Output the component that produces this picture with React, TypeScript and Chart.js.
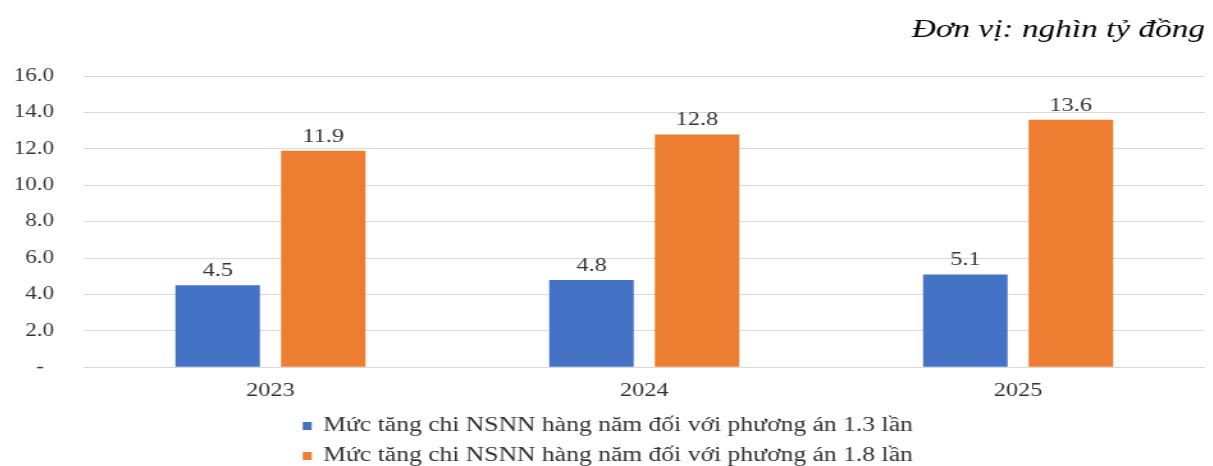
import React, { useEffect, useRef } from "react";
import { Chart, registerables } from "chart.js";

Chart.register(...registerables);

// Data
const years: string[] = ["2023", "2024", "2025"];
const plan13: number[] = [4.5, 4.8, 5.1];
const plan18: number[] = [11.9, 12.8, 13.6];
const seriesLabels: string[] = [
  "Mức tăng chi NSNN hàng năm đối với phương án 1.3 lần",
  "Mức tăng chi NSNN hàng năm đối với phương án 1.8 lần",
];
const unitLabel = "Đơn vị: nghìn tỷ đồng";
const yTicks = { min: 0, max: 16, step: 2 };

const BLUE = "#4472C4";
const ORANGE = "#ED7D31";
const TEXT = "#333333";
const SERIF = "'Liberation Serif', 'Times New Roman', serif";

// The drawing surface is laid out narrower and widened by CSS.
const CSS_W = 1197;
const CSS_H = 458;
const STRETCH = 1.28;
const W = Math.round(CSS_W / STRETCH);

const valueLabels = {
  id: "valueLabels",
  afterDatasetsDraw(chart: any) {
    const ctx = chart.ctx;
    ctx.save();
    ctx.font = `19px ${SERIF}`;
    ctx.fillStyle = TEXT;
    ctx.textAlign = "center";
    ctx.textBaseline = "alphabetic";
    chart.data.datasets.forEach((ds: any, di: number) => {
      const meta = chart.getDatasetMeta(di);
      meta.data.forEach((bar: any, i: number) => {
        const v = ds.data[i] as number;
        ctx.fillText(v.toFixed(1), bar.x, bar.y - 9);
      });
    });
    ctx.restore();
  },
};

// Two-row legend under the axis, rows left-aligned on a shared edge
const stackedLegend = {
  id: "stackedLegend",
  afterDraw(chart: any) {
    const ctx = chart.ctx;
    ctx.save();
    ctx.font = `20px ${SERIF}`;
    ctx.textBaseline = "middle";
    ctx.textAlign = "left";
    const boxW = 7;
    const boxH = 8;
    const gap = 9;
    const ds = chart.data.datasets;
    const maxText = Math.max(...ds.map((d: any) => ctx.measureText(d.label).width));
    const total = boxW + gap + maxText;
    const x0 = (chart.width - total) / 2 + 1;
    const rowsY = [chart.height - 40, chart.height - 10];
    ds.forEach((d: any, i: number) => {
      const y = rowsY[i];
      ctx.fillStyle = d.backgroundColor;
      ctx.fillRect(x0, y - boxH / 2, boxW, boxH);
      ctx.fillStyle = TEXT;
      ctx.fillText(d.label, x0 + boxW + gap, y);
    });
    ctx.restore();
  },
};

export default function App() {
  const ref = useRef<HTMLCanvasElement | null>(null);

  useEffect(() => {
    if (!ref.current) return;
    const chart = new Chart(ref.current, {
      type: "bar",
      data: {
        labels: years,
        datasets: [
          { label: seriesLabels[0], data: plan13, backgroundColor: BLUE },
          { label: seriesLabels[1], data: plan18, backgroundColor: ORANGE },
        ],
      },
      options: {
        responsive: false,
        animation: false,
        devicePixelRatio: 1,
        layout: { padding: { left: 4, right: 0, top: 0, bottom: 60 } },
        datasets: {
          bar: { barPercentage: 0.8, categoryPercentage: 0.565 },
        },
        scales: {
          x: {
            grid: { display: false },
            border: { display: false },
            ticks: {
              color: TEXT,
              font: { family: SERIF, size: 19 },
              padding: 4,
            },
          },
          y: {
            min: yTicks.min,
            max: yTicks.max,
            grid: { color: "#D9D9D9", drawTicks: false, lineWidth: 1 },
            border: { display: false },
            afterFit: (scale: any) => {
              scale.width = 55;
            },
            ticks: {
              stepSize: yTicks.step,
              color: TEXT,
              padding: 23,
              font: { family: SERIF, size: 18 },
              callback: (v: any) => (Number(v) === 0 ? "- \u2009" : Number(v).toFixed(1)),
            },
          },
        },
        plugins: {
          legend: { display: false },
          tooltip: { enabled: false },
          title: {
            display: true,
            text: unitLabel,
            align: "end",
            color: "#000000",
            font: { family: SERIF, size: 26, style: "italic", weight: "normal" },
            padding: { top: 7, bottom: 30 },
          },
        },
      },
      plugins: [valueLabels, stackedLegend],
    });
    return () => chart.destroy();
  }, []);

  return (
    <div style={{ width: CSS_W, height: CSS_H }}>
      <canvas
        ref={ref}
        width={W}
        height={CSS_H}
        style={{ width: `${CSS_W}px`, height: `${CSS_H}px`, display: "block" }}
      />
    </div>
  );
}
